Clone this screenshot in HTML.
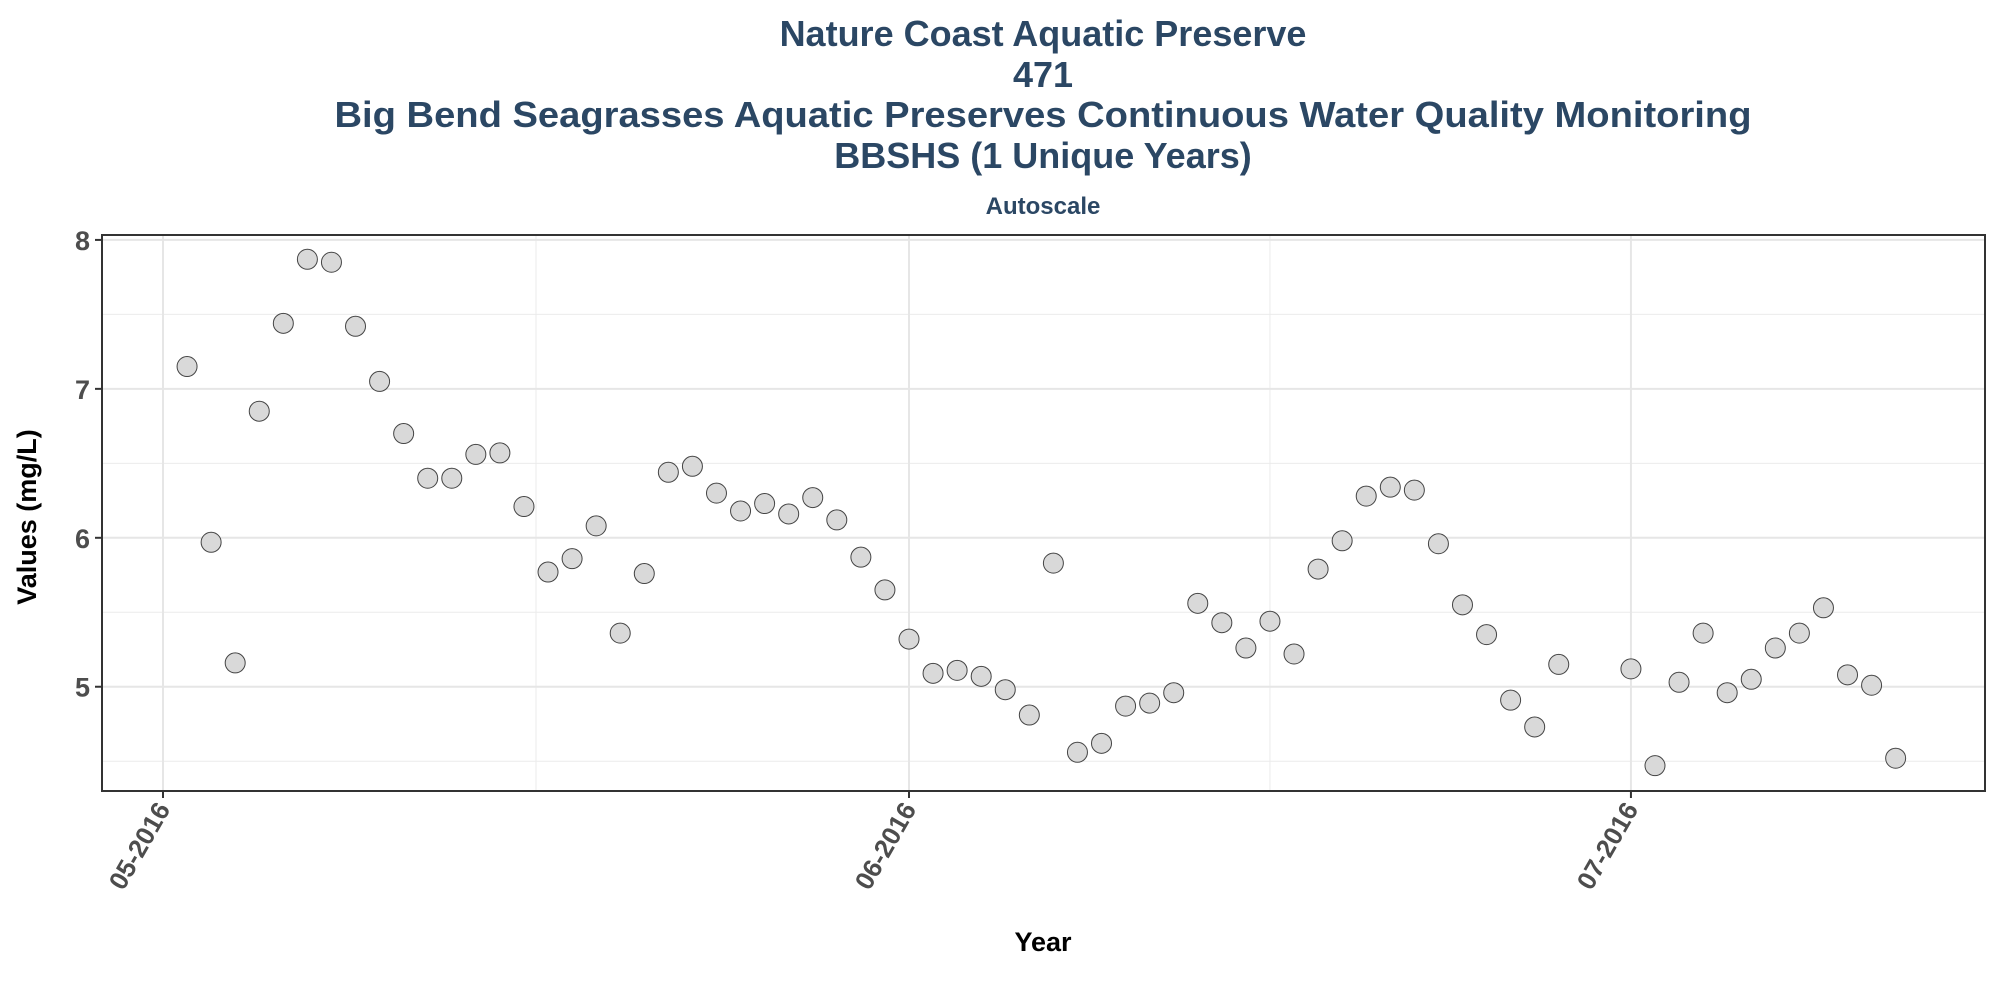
<!DOCTYPE html>
<html><head><meta charset="utf-8"><style>
html,body{margin:0;padding:0;background:#fff;}
svg{display:block;font-family:"Liberation Sans",sans-serif;}
</style></head><body>
<svg id="chart" width="2000" height="1000" viewBox="0 0 2000 1000" xmlns="http://www.w3.org/2000/svg">
<g fill="#2b4764" font-weight="bold" text-anchor="middle">
<text x="1043" y="46" font-size="36">Nature Coast Aquatic Preserve</text>
<text x="1043" y="87" font-size="36">471</text>
<text x="1043" y="127" font-size="36" textLength="1417" lengthAdjust="spacingAndGlyphs">Big Bend Seagrasses Aquatic Preserves Continuous Water Quality Monitoring</text>
<text x="1043" y="168" font-size="36">BBSHS (1 Unique Years)</text>
<text x="1043" y="214" font-size="24">Autoscale</text>
</g>
<g id="grid"></g>
<g id="axes"></g>
<g id="points"></g>
<text transform="translate(36,517) rotate(-90)" text-anchor="middle" font-size="27" font-weight="bold" fill="#000">Values (mg/L)</text>
<text x="1043" y="951" text-anchor="middle" font-size="27" font-weight="bold" fill="#000">Year</text>
</svg>
<script>
const dayOffsets = [1,2,3,4,5,6,7,8,9,10,11,12,13,14,15,16,17,18,19,20,21,22,23,24,25,26,27,28,29,30,31,32,33,34,35,36,37,38,39,40,41,42,43,44,45,46,47,48,49,50,51,52,53,54,55,56,57,58,61,62,63,64,65,66,67,68,69,70,71,72];
const values = [7.15,5.97,5.16,6.85,7.44,7.87,7.85,7.42,7.05,6.70,6.40,6.40,6.56,6.57,6.21,5.77,5.86,6.08,5.36,5.76,6.44,6.48,6.30,6.18,6.23,6.16,6.27,6.12,5.87,5.65,5.32,5.09,5.11,5.07,4.98,4.81,5.83,4.56,4.62,4.87,4.89,4.96,5.56,5.43,5.26,5.44,5.22,5.79,5.98,6.28,6.34,6.32,5.96,5.55,5.35,4.91,4.73,5.15,5.12,4.47,5.03,5.36,4.96,5.05,5.26,5.36,5.53,5.08,5.01,4.52];
const xTickDays = [0,31,61];
const xTickLabels = ["05-2016","06-2016","07-2016"];
const yTicks = [5,6,7,8];
const yMinor = [4.5,5.5,6.5,7.5];

const NS="http://www.w3.org/2000/svg";
const L=102,R=1985,T=235,B=791;
const x0=163, pxPerDay=(909-163)/31;
function xs(d){return x0+d*pxPerDay;}
const yTop=8.033, yBot=4.30;
function ys(v){return T+(yTop-v)/(yTop-yBot)*(B-T);}
function mk(tag,attrs,parent){const e=document.createElementNS(NS,tag);for(const k in attrs)e.setAttribute(k,attrs[k]);parent.appendChild(e);return e;}
const grid=document.getElementById('grid'),axes=document.getElementById('axes'),pts=document.getElementById('points');
mk('rect',{x:L,y:T,width:R-L,height:B-T,fill:'#fff'},grid);
yMinor.forEach(v=>{const l=mk('line',{x1:L,x2:R,y1:ys(v),y2:ys(v),stroke:'#ebebeb','stroke-width':1},grid);

});
for(let i=0;i<xTickDays.length-1;i++){const m=(xs(xTickDays[i])+xs(xTickDays[i+1]))/2;const l=mk('line',{x1:m,x2:m,y1:T,y2:B,stroke:'#ebebeb','stroke-width':1},grid);

}
yTicks.forEach(v=>{const l=mk('line',{x1:L,x2:R,y1:ys(v),y2:ys(v),stroke:'#e6e6e6','stroke-width':2},grid);


const t=mk('line',{x1:L-7,x2:L,y1:ys(v),y2:ys(v),stroke:'#333','stroke-width':2},axes);


const tx=mk('text',{x:L-12,y:ys(v)+10,'text-anchor':'end','font-size':27,'font-weight':'bold',fill:'#4d4d4d'},axes);tx.textContent=v;

});
xTickDays.forEach((d,i)=>{const x=xs(d);const l=mk('line',{x1:x,x2:x,y1:T,y2:B,stroke:'#e6e6e6','stroke-width':2},grid);


const t=mk('line',{x1:x,x2:x,y1:B,y2:B+7,stroke:'#333','stroke-width':2},axes);


const tx=mk('text',{transform:`translate(${x+8},${B+18}) rotate(-60)`,'text-anchor':'end','font-size':26,'font-weight':'bold',fill:'#4d4d4d'},axes);tx.textContent=xTickLabels[i];

});
const fr=mk('rect',{x:L,y:T,width:R-L,height:B-T,fill:'none',stroke:'#333','stroke-width':2},axes);


dayOffsets.forEach((d,i)=>{const c=mk('circle',{cx:xs(d),cy:ys(values[i]),r:10,fill:'#d9d9d9',stroke:'#444','stroke-width':1},pts);

});
</script>
</body></html>
